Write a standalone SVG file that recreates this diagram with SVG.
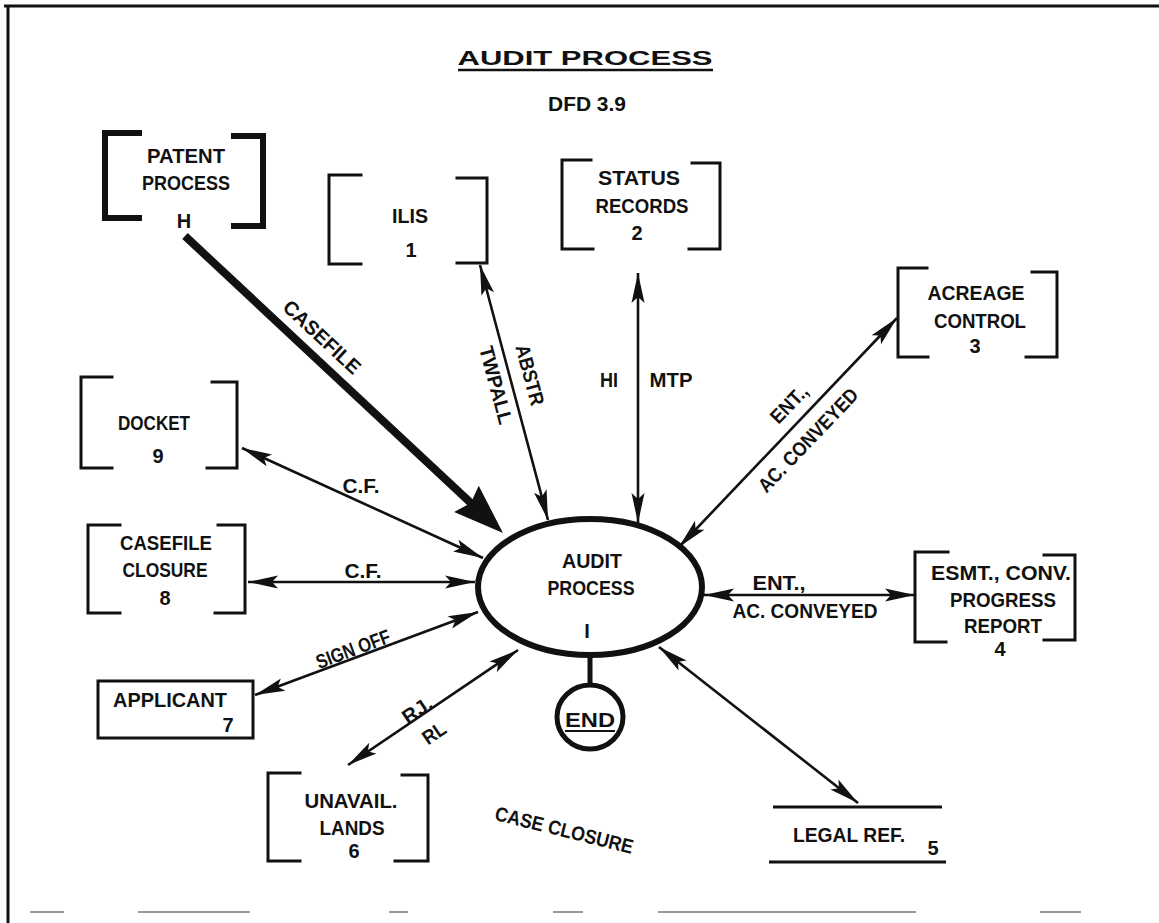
<svg xmlns="http://www.w3.org/2000/svg" width="1159" height="923" viewBox="0 0 1159 923">
  <defs>
    <style>
      .t { font-family: "Liberation Sans", Arial, sans-serif; font-size: 20px; font-weight: bold; fill: #111; text-anchor: middle; }
      .br { fill: none; stroke: #111; stroke-width: 3; stroke-linecap: square; }
      .thick { stroke-width: 6; }
      .ln { fill: none; stroke: #111; stroke-width: 2.6; marker-start: url(#ah); marker-end: url(#ah); }
      .frame { stroke: #111; stroke-width: 3; fill: none; }
      .dash { stroke: #999; stroke-width: 2; }
    </style>
    <marker id="ah" viewBox="-32 -8 34 16" refX="0" refY="0" markerWidth="34" markerHeight="16" markerUnits="userSpaceOnUse" orient="auto-start-reverse" overflow="visible">
      <path d="M0,0 L-30,-6.5 L-24,0 L-30,6.5 Z" fill="#111"/>
    </marker>
    <marker id="ahBig" viewBox="-54 -20 56 40" refX="-25" refY="0" markerWidth="56" markerHeight="40" markerUnits="userSpaceOnUse" orient="auto" overflow="visible">
      <path d="M0,0 L-50,-18 L-44,0 L-50,18 Z" fill="#111"/>
    </marker>
  </defs>

  <rect width="1159" height="923" fill="#fff"/>

  <!-- page frame -->
  <g id="frame">
    <line class="frame" x1="4" y1="6" x2="1159" y2="6"/>
    <line class="frame" x1="8" y1="5" x2="8" y2="923" stroke-width="2.5"/>
    <line class="dash" x1="30" y1="912" x2="64" y2="912"/>
    <line class="dash" x1="138" y1="912" x2="250" y2="912"/>
    <line class="dash" x1="389" y1="912" x2="408" y2="912"/>
    <line class="dash" x1="553" y1="912" x2="583" y2="912"/>
    <line class="dash" x1="658" y1="912" x2="916" y2="912"/>
    <line class="dash" x1="1040" y1="912" x2="1081" y2="912"/>
  </g>

  <!-- heading -->
  <g id="title">
    <text class="t" x="585" y="65" font-size="28" textLength="255" lengthAdjust="spacingAndGlyphs">AUDIT PROCESS</text>
    <line x1="458" y1="70" x2="713" y2="70" stroke="#111" stroke-width="2.5"/>
    <text class="t" x="587" y="111" font-size="19" textLength="78" lengthAdjust="spacingAndGlyphs">DFD 3.9</text>
  </g>

  <!-- data flows -->
  <g id="connectors">
    <line x1="185" y1="236" x2="484.7" y2="515.9" stroke="#111" stroke-width="8" marker-end="url(#ahBig)"/>
    <line class="ln" x1="480" y1="265" x2="548" y2="520"/>
    <line class="ln" x1="638" y1="273" x2="638" y2="523"/>
    <line class="ln" x1="897" y1="318" x2="679" y2="547"/>
    <line class="ln" x1="704" y1="595" x2="915" y2="595"/>
    <line class="ln" x1="659" y1="647" x2="858" y2="803"/>
    <line class="ln" x1="518" y1="650" x2="348" y2="765"/>
    <line class="ln" x1="478" y1="612" x2="255" y2="695"/>
    <line class="ln" x1="475" y1="582" x2="248" y2="582"/>
    <line class="ln" x1="483" y1="558" x2="242" y2="448"/>
    <line x1="590" y1="655" x2="590" y2="686" stroke="#111" stroke-width="5"/>

    <text class="t" transform="translate(322,337) rotate(43)" y="7" textLength="98" lengthAdjust="spacingAndGlyphs">CASEFILE</text>
    <text class="t" transform="translate(530,375) rotate(75)" y="7" textLength="62" lengthAdjust="spacingAndGlyphs">ABSTR</text>
    <text class="t" transform="translate(496,385) rotate(75)" y="7" textLength="80" lengthAdjust="spacingAndGlyphs">TWPALL</text>
    <text class="t" x="609" y="387" textLength="18" lengthAdjust="spacingAndGlyphs">HI</text>
    <text class="t" x="671" y="387" textLength="43" lengthAdjust="spacingAndGlyphs">MTP</text>
    <text class="t" transform="translate(789,404) rotate(-46.4)" y="7" textLength="45" lengthAdjust="spacingAndGlyphs">ENT.,</text>
    <text class="t" transform="translate(808,440) rotate(-46.4)" y="7" textLength="135" lengthAdjust="spacingAndGlyphs">AC. CONVEYED</text>
    <text class="t" x="779" y="590" textLength="53" lengthAdjust="spacingAndGlyphs">ENT.,</text>
    <text class="t" x="805" y="618" textLength="145" lengthAdjust="spacingAndGlyphs">AC. CONVEYED</text>
    <text class="t" x="361" y="493" textLength="37" lengthAdjust="spacingAndGlyphs">C.F.</text>
    <text class="t" x="363" y="578" textLength="37" lengthAdjust="spacingAndGlyphs">C.F.</text>
    <text class="t" transform="translate(353,649) rotate(-20.4)" y="7" textLength="78" lengthAdjust="spacingAndGlyphs">SIGN OFF</text>
    <text class="t" transform="translate(417,710) rotate(-34)" y="7" textLength="32" lengthAdjust="spacingAndGlyphs">RJ.</text>
    <text class="t" transform="translate(434,733) rotate(-34)" y="7" textLength="24" lengthAdjust="spacingAndGlyphs">RL</text>
    <text class="t" transform="translate(564,831) rotate(14)" y="6" font-size="18" textLength="142" lengthAdjust="spacingAndGlyphs">CASE CLOSURE</text>
  </g>

  <!-- external entity H -->
  <g id="patent-process">
    <path class="br thick" d="M139,133 H105 V218 H139"/>
    <path class="br thick" d="M234,136 H263 V226 H234"/>
    <text class="t" x="186" y="163" textLength="78" lengthAdjust="spacingAndGlyphs">PATENT</text>
    <text class="t" x="186" y="190" textLength="88" lengthAdjust="spacingAndGlyphs">PROCESS</text>
    <text class="t" x="184" y="228">H</text>
  </g>

  <g id="ilis">
    <path class="br" d="M361,175 H329 V264 H361"/>
    <path class="br" d="M457,178 H487 V263 H457"/>
    <text class="t" x="410" y="223" textLength="36" lengthAdjust="spacingAndGlyphs">ILIS</text>
    <text class="t" x="411" y="257">1</text>
  </g>

  <g id="status-records">
    <path class="br" d="M591,160 H562 V249 H593"/>
    <path class="br" d="M692,163 H720 V249 H689"/>
    <text class="t" x="639" y="185" textLength="82" lengthAdjust="spacingAndGlyphs">STATUS</text>
    <text class="t" x="642" y="213" textLength="93" lengthAdjust="spacingAndGlyphs">RECORDS</text>
    <text class="t" x="637" y="240">2</text>
  </g>

  <g id="acreage-control">
    <path class="br" d="M927,268 H898 V357 H928"/>
    <path class="br" d="M1032,272 H1057 V357 H1026"/>
    <text class="t" x="976" y="300" textLength="97" lengthAdjust="spacingAndGlyphs">ACREAGE</text>
    <text class="t" x="980" y="328" textLength="92" lengthAdjust="spacingAndGlyphs">CONTROL</text>
    <text class="t" x="975" y="353">3</text>
  </g>

  <g id="esmt-progress-report">
    <path class="br" d="M948,552 H915 V642 H946"/>
    <path class="br" d="M1044,555 H1075 V640 H1044"/>
    <text class="t" x="1001" y="580" textLength="140" lengthAdjust="spacingAndGlyphs">ESMT., CONV.</text>
    <text class="t" x="1003" y="607" textLength="106" lengthAdjust="spacingAndGlyphs">PROGRESS</text>
    <text class="t" x="1003" y="633" textLength="78" lengthAdjust="spacingAndGlyphs">REPORT</text>
    <text class="t" x="1000" y="656">4</text>
  </g>

  <g id="legal-ref">
    <line x1="773" y1="807" x2="942" y2="807" stroke="#111" stroke-width="3"/>
    <line x1="769" y1="862" x2="946" y2="862" stroke="#111" stroke-width="3"/>
    <text class="t" x="849" y="842" textLength="112" lengthAdjust="spacingAndGlyphs">LEGAL REF.</text>
    <text class="t" x="933" y="855">5</text>
  </g>

  <g id="unavail-lands">
    <path class="br" d="M300,773 H268 V861 H300"/>
    <path class="br" d="M402,775 H428 V861 H395"/>
    <text class="t" x="351" y="808" textLength="93" lengthAdjust="spacingAndGlyphs">UNAVAIL.</text>
    <text class="t" x="352" y="835" textLength="65" lengthAdjust="spacingAndGlyphs">LANDS</text>
    <text class="t" x="354" y="858">6</text>
  </g>

  <g id="applicant">
    <rect x="98" y="681" width="155" height="57" fill="none" stroke="#111" stroke-width="3"/>
    <text class="t" x="170" y="707" textLength="114" lengthAdjust="spacingAndGlyphs">APPLICANT</text>
    <text class="t" x="228" y="732">7</text>
  </g>

  <g id="casefile-closure">
    <path class="br" d="M120,525 H88 V613 H120"/>
    <path class="br" d="M218,525 H245 V613 H215"/>
    <text class="t" x="166" y="550" textLength="92" lengthAdjust="spacingAndGlyphs">CASEFILE</text>
    <text class="t" x="165" y="577" textLength="85" lengthAdjust="spacingAndGlyphs">CLOSURE</text>
    <text class="t" x="165" y="605">8</text>
  </g>

  <g id="docket">
    <path class="br" d="M112,377 H81 V468 H112"/>
    <path class="br" d="M212,382 H237 V468 H207"/>
    <text class="t" x="154" y="430" textLength="72" lengthAdjust="spacingAndGlyphs">DOCKET</text>
    <text class="t" x="158" y="463">9</text>
  </g>

  <!-- central process -->
  <g id="audit-process">
    <ellipse cx="590" cy="587" rx="112" ry="68" fill="#fff" stroke="#111" stroke-width="6"/>
    <text class="t" x="592" y="568" textLength="60" lengthAdjust="spacingAndGlyphs">AUDIT</text>
    <text class="t" x="591" y="595" textLength="87" lengthAdjust="spacingAndGlyphs">PROCESS</text>
    <text class="t" x="587" y="638">I</text>
  </g>

  <g id="end">
    <ellipse cx="590" cy="717" rx="33" ry="32" fill="#fff" stroke="#111" stroke-width="5"/>
    <text class="t" x="590" y="727" textLength="50" lengthAdjust="spacingAndGlyphs">END</text>
    <line x1="565" y1="731" x2="615" y2="731" stroke="#111" stroke-width="2"/>
  </g>
</svg>
